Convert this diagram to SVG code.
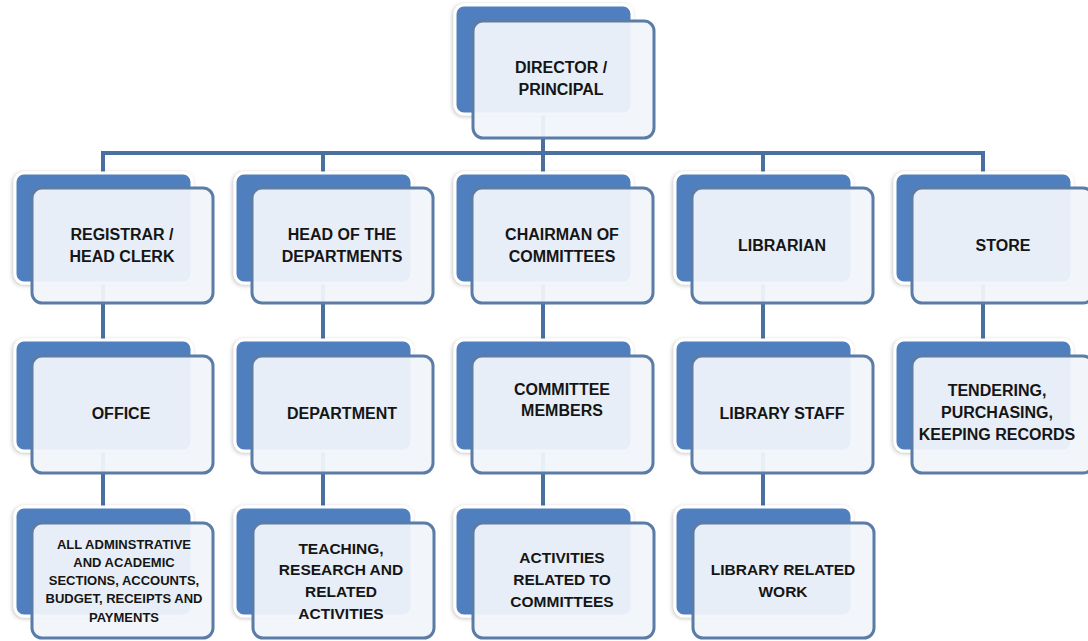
<svg xmlns="http://www.w3.org/2000/svg" width="1088" height="641" viewBox="0 0 1088 641">
<defs>
<filter id="sh" x="-10%" y="-10%" width="120%" height="120%">
<feGaussianBlur in="SourceAlpha" stdDeviation="2"/>
<feOffset dx="-1" dy="1"/>
<feComponentTransfer><feFuncA type="linear" slope="0.25"/></feComponentTransfer>
<feMerge><feMergeNode/><feMergeNode in="SourceGraphic"/></feMerge>
</filter>
</defs>
<style>
.back{fill:#4f7fbe;stroke:#ffffff;stroke-width:3;filter:url(#sh)}
.front{fill:#f1f5fb;fill-opacity:0.94;stroke:#5b7ca6;stroke-width:3}
.lbl{font-family:"Liberation Sans",Arial,sans-serif;font-weight:bold;font-size:16px;fill:#151515;text-anchor:middle}
.sm{font-size:15.5px}
.xs{font-size:13px}
.conn{stroke:#4a70a0;stroke-width:4;fill:none}
</style>
<rect width="1088" height="641" fill="#ffffff"/>
<g id="connectors">
<path class="conn" d="M543 113V153M101 153H985M103 151V173M323 151V173M543 151V173M763 151V173M983 151V173"/>
<path class="conn" d="M103 283V340M323 283V340M543 283V340M763 283V340M983 283V340"/>
<path class="conn" d="M103 450V507M323 450V507M543 450V507M763 450V507"/>
</g>
<g id="director">
<rect class="back" x="455" y="5" width="177" height="109" rx="9"/>
<rect class="front" x="473" y="21" width="181" height="117" rx="10"/>
<text class="lbl" x="561" y="73">DIRECTOR /</text>
<text class="lbl" x="561" y="95">PRINCIPAL</text>
</g>
<g id="registrar">
<rect class="back" x="15" y="173" width="177" height="110" rx="9"/>
<rect class="front" x="32" y="188" width="181" height="115" rx="10"/>
<text class="lbl" x="122" y="240">REGISTRAR /</text>
<text class="lbl" x="122" y="262">HEAD CLERK</text>
</g>
<g id="hod">
<rect class="back" x="235" y="173" width="177" height="110" rx="9"/>
<rect class="front" x="252" y="188" width="181" height="115" rx="10"/>
<text class="lbl" x="342" y="240">HEAD OF THE</text>
<text class="lbl" x="342" y="262">DEPARTMENTS</text>
</g>
<g id="chairman">
<rect class="back" x="455" y="173" width="177" height="110" rx="9"/>
<rect class="front" x="472" y="188" width="181" height="115" rx="10"/>
<text class="lbl" x="562" y="240">CHAIRMAN OF</text>
<text class="lbl" x="562" y="262">COMMITTEES</text>
</g>
<g id="librarian">
<rect class="back" x="675" y="173" width="177" height="110" rx="9"/>
<rect class="front" x="692" y="188" width="181" height="115" rx="10"/>
<text class="lbl" x="782" y="251">LIBRARIAN</text>
</g>
<g id="store">
<rect class="back" x="895" y="173" width="177" height="110" rx="9"/>
<rect class="front" x="912" y="188" width="181" height="115" rx="10"/>
<text class="lbl" x="1003" y="251">STORE</text>
</g>
<g id="office">
<rect class="back" x="15" y="340" width="177" height="111" rx="9"/>
<rect class="front" x="32" y="356" width="181" height="117" rx="10"/>
<text class="lbl" x="121" y="419">OFFICE</text>
</g>
<g id="department">
<rect class="back" x="235" y="340" width="177" height="111" rx="9"/>
<rect class="front" x="252" y="356" width="181" height="117" rx="10"/>
<text class="lbl" x="342" y="419">DEPARTMENT</text>
</g>
<g id="members">
<rect class="back" x="455" y="340" width="177" height="111" rx="9"/>
<rect class="front" x="472" y="356" width="181" height="117" rx="10"/>
<text class="lbl" x="562" y="395">COMMITTEE</text>
<text class="lbl" x="562" y="416">MEMBERS</text>
</g>
<g id="librarystaff">
<rect class="back" x="675" y="340" width="177" height="111" rx="9"/>
<rect class="front" x="692" y="356" width="181" height="117" rx="10"/>
<text class="lbl" x="782" y="419">LIBRARY STAFF</text>
</g>
<g id="tendering">
<rect class="back" x="895" y="340" width="177" height="111" rx="9"/>
<rect class="front" x="912" y="356" width="181" height="117" rx="10"/>
<text class="lbl" x="997" y="396">TENDERING,</text>
<text class="lbl" x="997" y="418">PURCHASING,</text>
<text class="lbl" x="997" y="440">KEEPING RECORDS</text>
</g>
<g id="admin">
<rect class="back" x="15" y="507" width="177" height="109" rx="9"/>
<rect class="front" x="32" y="523" width="181" height="115" rx="10"/>
<text class="lbl xs" x="124" y="549">ALL ADMINSTRATIVE</text>
<text class="lbl xs" x="124" y="567">AND ACADEMIC</text>
<text class="lbl xs" x="124" y="585">SECTIONS, ACCOUNTS,</text>
<text class="lbl xs" x="124" y="603">BUDGET, RECEIPTS AND</text>
<text class="lbl xs" x="124" y="622">PAYMENTS</text>
</g>
<g id="teaching">
<rect class="back" x="235" y="507" width="177" height="109" rx="9"/>
<rect class="front" x="253" y="523" width="181" height="115" rx="10"/>
<text class="lbl sm" x="341" y="554">TEACHING,</text>
<text class="lbl sm" x="341" y="575">RESEARCH AND</text>
<text class="lbl sm" x="341" y="597">RELATED</text>
<text class="lbl sm" x="341" y="619">ACTIVITIES</text>
</g>
<g id="activities">
<rect class="back" x="455" y="507" width="177" height="109" rx="9"/>
<rect class="front" x="473" y="523" width="181" height="115" rx="10"/>
<text class="lbl sm" x="562" y="563">ACTIVITIES</text>
<text class="lbl sm" x="562" y="585">RELATED TO</text>
<text class="lbl sm" x="562" y="607">COMMITTEES</text>
</g>
<g id="librarywork">
<rect class="back" x="675" y="507" width="177" height="109" rx="9"/>
<rect class="front" x="693" y="523" width="181" height="115" rx="10"/>
<text class="lbl sm" x="783" y="575">LIBRARY RELATED</text>
<text class="lbl sm" x="783" y="597">WORK</text>
</g>
</svg>
